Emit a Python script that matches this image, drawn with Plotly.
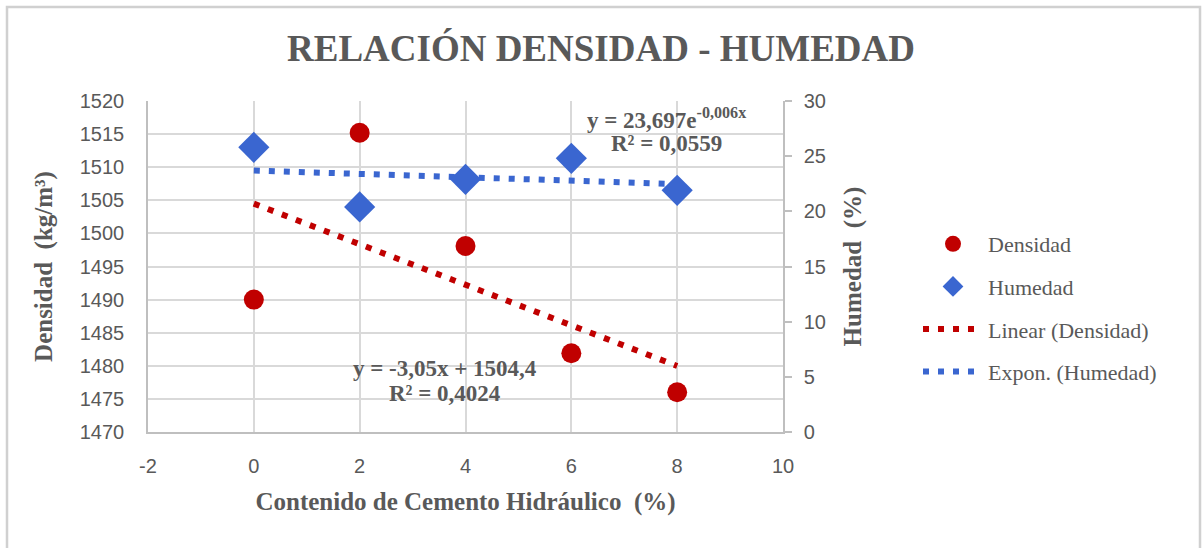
import numpy as np
import plotly.graph_objects as go

# ---- data ----
cemento = [0, 2, 4, 6, 8]
densidad = [1490.0, 1515.2, 1498.1, 1481.9, 1476.0]
humedad = [25.8, 20.4, 22.9, 24.8, 21.9]

x_ticks = [-2, 0, 2, 4, 6, 8, 10]
x_tick_text = ["-2", "0", "2", "4", "6", "8", "10"]
y_left_ticks = [1470, 1475, 1480, 1485, 1490, 1495, 1500, 1505, 1510, 1515, 1520]
y_right_ticks = [0, 5, 10, 15, 20, 25, 30]

eq_lin = ["y = -3,05x + 1504,4", "R² = 0,4024"]
eq_exp = ["y = 23,697e<sup>-0,006x</sup>", "R² = 0,0559"]

# ---- trendlines fitted from the data ----
slope, intercept = np.polyfit(cemento, densidad, 1)
b_exp, ln_a = np.polyfit(cemento, np.log(humedad), 1)
x_tr = np.array([min(cemento), max(cemento)], dtype=float)
x_tr_e = np.linspace(min(cemento), max(cemento), 9)
lin_y = slope * x_tr + intercept
exp_y = np.exp(ln_a) * np.exp(b_exp * x_tr_e)

RED = "#C00000"
BLUE = "#3A66D0"
GRAY = "#595959"
GRID = "#d9d9d9"
SERIF = "Liberation Serif"
SANS = "Liberation Sans"

W, H = 1202, 548
L, R, T, B = 148, 419, 101, 116
PW, PH = W - L - R, H - T - B


def px_to_x(px):
    return (px - L) / PW * 12 - 2


def py_to_y1(py):
    return 1520 - (py - T) / PH * 50


def py_to_y2(py):
    return (H - B - py) / PH * 30


fig = go.Figure()
fig.add_trace(go.Scatter(
    x=x_tr, y=lin_y, mode="lines", name="Linear (Densidad)",
    line=dict(color=RED, width=6, dash="6px,9px"), legendgroup="c", legendrank=3))
fig.add_trace(go.Scatter(
    x=x_tr_e, y=exp_y, mode="lines", name="Expon. (Humedad)", yaxis="y2",
    line=dict(color=BLUE, width=6, dash="6px,9px"), legendgroup="d", legendrank=4))
fig.add_trace(go.Scatter(
    x=cemento, y=densidad, mode="markers", name="Densidad",
    marker=dict(symbol="circle", size=20, color=RED), legendgroup="a", legendrank=1))
fig.add_trace(go.Scatter(
    x=cemento, y=humedad, mode="markers", name="Humedad", yaxis="y2",
    marker=dict(symbol="diamond", size=24, color=BLUE), legendgroup="b", legendrank=2))

fig.update_layout(
    width=W, height=H,
    paper_bgcolor="white", plot_bgcolor="white",
    margin=dict(l=L, r=R, t=T, b=B, autoexpand=False),
    title=dict(text="<b>RELACIÓN DENSIDAD - HUMEDAD</b>",
               font=dict(family=SERIF, size=37, color=GRAY),
               x=0.5, xanchor="center", xref="container",
               y=1 - 48 / H, yanchor="middle", yref="container"),
    xaxis=dict(range=[-2, 10], tickvals=x_ticks, ticktext=x_tick_text,
               showgrid=True, gridcolor=GRID, gridwidth=1.5, zeroline=False,
               showline=True, linecolor="#bfbfbf", linewidth=1.5,
               ticks="", ticklabelstandoff=15,
               tickfont=dict(family=SANS, size=20, color=GRAY),
               title=dict(text="<b>Contenido de Cemento Hidráulico  (%)</b>",
                          font=dict(family=SERIF, size=25, color=GRAY),
                          standoff=17)),
    yaxis=dict(range=[1470, 1520], tickvals=y_left_ticks, showgrid=True,
               gridcolor=GRID, gridwidth=1.5, zeroline=False,
               showline=True, linecolor="#bfbfbf", linewidth=1.5,
               ticks="", ticklabelstandoff=18,
               tickfont=dict(family=SANS, size=20, color=GRAY),
               title=dict(text="<b>Densidad  (kg/m³)</b>",
                          font=dict(family=SERIF, size=25, color=GRAY),
                          standoff=20)),
    yaxis2=dict(range=[0, 30], tickvals=y_right_ticks, overlaying="y",
                side="right", showgrid=False, zeroline=False,
                showline=True, linecolor="#bfbfbf", linewidth=1.5,
                ticks="outside", ticklen=7, tickcolor="#bfbfbf", tickwidth=1.5,
                ticklabelstandoff=8,
                tickfont=dict(family=SANS, size=20, color=GRAY),
                title=dict(text="<b>Humedad  (%)</b>",
                           font=dict(family=SERIF, size=25, color=GRAY),
                           standoff=18)),
    legend=dict(x=918 / W, y=1 - 223 / H, xref="container", yref="container",
                xanchor="left", yanchor="top",
                font=dict(family=SERIF, size=22, color=GRAY),
                traceorder="grouped", tracegroupgap=11, itemwidth=60,
                bgcolor="rgba(0,0,0,0)"),
    showlegend=True,
)

ann_font = dict(family=SERIF, size=23, color=GRAY)
fig.add_annotation(x=px_to_x(445), y=py_to_y1(368), xref="x", yref="y",
                   text="<b>" + eq_lin[0] + "</b>", showarrow=False, font=ann_font)
fig.add_annotation(x=px_to_x(445), y=py_to_y1(393), xref="x", yref="y",
                   text="<b>" + eq_lin[1] + "</b>", showarrow=False, font=ann_font)
fig.add_annotation(x=px_to_x(666), y=py_to_y2(118), xref="x", yref="y2",
                   text="<b>" + eq_exp[0] + "</b>", showarrow=False, font=ann_font)
fig.add_annotation(x=px_to_x(666), y=py_to_y2(143), xref="x", yref="y2",
                   text="<b>" + eq_exp[1] + "</b>", showarrow=False, font=ann_font)

# outer chart border
fig.add_shape(type="rect", xref="paper", yref="paper",
              x0=(7 - L) / PW, x1=(1200 - L) / PW,
              y0=(H - B - 560) / PH, y1=(H - B - 7) / PH,
              line=dict(color="#d0d0d0", width=2.5), layer="below")

fig.write_html("out.html",
               config={"displayModeBar": False},
               post_script="document.body.style.margin='0';"
                           "document.body.style.overflow='hidden';")
